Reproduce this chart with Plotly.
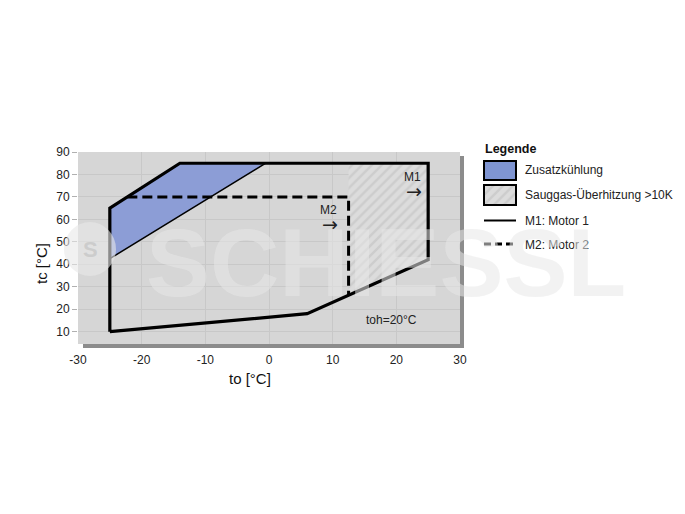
import plotly.graph_objects as go

# ---- data ----
env_to = [-25, -25, -14, 25, 25, 6, -25]          # M1 envelope, evaporating temp
env_tc = [10, 65, 85, 85, 42, 18, 10]              # M1 envelope, condensing temp
zus_to = [-25, -14, -0.5, -25]                     # Zusatzkühlung region
zus_tc = [65, 85, 85, 42.5]
sg_to = [12.5, 25, 25, 12.5]                       # Sauggas-Überhitzung region
sg_tc = [85, 85, 42, 26.2]
m2_to = [-22.25, 12.5, 12.5]                       # M2 limit (dashed)
m2_tc = [70, 70, 26.2]
x_ticks = [-30, -20, -10, 0, 10, 20, 30]
x_tick_labels = ["-30", "-20", "-10", "0", "10", "20", "30"]
y_ticks = [10, 20, 30, 40, 50, 60, 70, 80, 90]
legend_title = "Legende"
legend_labels = ["Zusatzkühlung", "Sauggas-Überhitzung >10K", "M1: Motor 1", "M2: Motor 2"]

W, H = 685, 514
DX, DY = 6, 8            # compensation for page offset
ML, MR, MT, MB = 76 - DX, 10 + DX, 152 - DY, 170 + DY
PW = W - ML - MR
PH = H - MT - MB
BOTTOM = 344 - DY        # page pixel of plot bottom

def px(x):
    return ((x - DX) - ML) / PW

def py(y):
    return (BOTTOM - (y - DY)) / PH

FONT = "Liberation Sans, Arial, sans-serif"
BLUE = "#8c9dd6"
HATCH = dict(shape="/", fgcolor="#bdbdbd", bgcolor="#dcdcdc", size=7, solidity=0.35)

fig = go.Figure()

fig.add_trace(go.Scatter(x=zus_to, y=zus_tc, fill="toself", fillcolor=BLUE,
                         mode="lines", line=dict(color="black", width=1.5),
                         hoverinfo="skip", showlegend=False))
fig.add_trace(go.Scatter(x=sg_to, y=sg_tc, fill="toself", fillcolor="#d8d8d8",
                         fillpattern=HATCH,
                         mode="lines", line=dict(color="black", width=1.5),
                         hoverinfo="skip", showlegend=False))
fig.add_trace(go.Scatter(x=m2_to, y=m2_tc, mode="lines",
                         line=dict(color="black", width=3, dash="10px,5px"),
                         hoverinfo="skip", showlegend=False))
fig.add_trace(go.Scatter(x=env_to, y=env_tc, mode="lines",
                         line=dict(color="black", width=3.2),
                         hoverinfo="skip", showlegend=False))

lx0, lx1 = px(482), px(514)
fig.add_trace(go.Scatter(x=[0, 1, 1, 0, 0], y=[0, 0, 1, 1, 0], fill="toself",
                         fillcolor="#d8d8d8", fillpattern=HATCH,
                         mode="lines", line=dict(width=0), xaxis="x2", yaxis="y2",
                         hoverinfo="skip", showlegend=False))

fig.update_layout(
    width=W, height=H,
    margin=dict(l=ML, r=MR, t=MT, b=MB, autoexpand=False),
    paper_bgcolor="white",
    plot_bgcolor="#d6d6d6",
    font=dict(family=FONT, size=12, color="#222222"),
    xaxis=dict(domain=[0, px(458)], range=[-30, 30], tickvals=x_ticks,
               ticktext=x_tick_labels,
               showgrid=True, gridcolor="#c8c8c8", gridwidth=1, zeroline=False,
               showline=False, ticks="outside", ticklen=5, tickcolor="rgba(0,0,0,0)",
               tickfont=dict(size=12, color="#222"),
               fixedrange=True, automargin=False),
    yaxis=dict(domain=[0, 1], range=[4.5, 90], tickvals=y_ticks,
               showgrid=True, gridcolor="#c8c8c8", gridwidth=1, zeroline=False,
               showline=False, ticks="outside", ticklen=5, tickcolor="#b0b0b0",
               tickfont=dict(size=12, color="#222"), fixedrange=True, automargin=False),
    xaxis2=dict(domain=[lx0, lx1], range=[0, 1], visible=False, anchor="y2"),
    yaxis2=dict(domain=[py(205), py(185)], range=[0, 1], visible=False, anchor="x2"),
    showlegend=False,
)

shapes = []
# drop shadow of plot area (bottom and right strips)
shapes.append(dict(type="rect", xref="paper", yref="paper", layer="below",
                   x0=px(81), x1=px(462), y0=py(348), y1=py(344),
                   fillcolor="#8c8c8c", line=dict(width=0)))
shapes.append(dict(type="rect", xref="paper", yref="paper", layer="below",
                   x0=px(458), x1=px(462), y0=py(348), y1=py(156),
                   fillcolor="#8c8c8c", line=dict(width=0)))
# legend blue box
shapes.append(dict(type="rect", xref="paper", yref="paper",
                   x0=lx0, x1=lx1, y0=py(180), y1=py(161),
                   fillcolor="#7f95d2", line=dict(color="black", width=2)))
# legend hatched border
shapes.append(dict(type="rect", xref="paper", yref="paper",
                   x0=lx0, x1=lx1, y0=py(205), y1=py(185),
                   fillcolor="rgba(0,0,0,0)", line=dict(color="black", width=2)))
# legend M1 line
shapes.append(dict(type="line", xref="paper", yref="paper",
                   x0=lx0, x1=lx1, y0=py(220.5), y1=py(220.5),
                   line=dict(color="black", width=2)))
# legend M2 dashed
shapes.append(dict(type="line", xref="paper", yref="paper",
                   x0=lx0, x1=lx1, y0=py(244), y1=py(244),
                   line=dict(color="black", width=3, dash="7px,4px")))
# watermark logo circle
shapes.append(dict(type="circle", xref="paper", yref="paper",
                   x0=px(62), x1=px(114), y0=py(276), y1=py(222),
                   fillcolor="rgba(232,232,232,0.6)", line=dict(width=0)))
fig.update_layout(shapes=shapes)

ann = []
ann.append(dict(text="to [°C]", xref="paper", yref="paper", x=px(247.5), y=py(378),
                showarrow=False, font=dict(size=15, color="#111"),
                xanchor="center", yanchor="middle"))
ann.append(dict(text="tc [°C]", xref="paper", yref="paper", x=px(39), y=py(264),
                showarrow=False, textangle=-90, font=dict(size=15, color="#111"),
                xanchor="center", yanchor="middle"))
ann.append(dict(text="M1", x=22.5, y=78.9, xref="x", yref="y", showarrow=False,
                font=dict(size=12, color="#222")))
ann.append(dict(text="→", x=22.7, y=72.5, xref="x", yref="y", showarrow=False,
                font=dict(size=19, color="#222", family="DejaVu Sans")))
ann.append(dict(text="M2", x=9.4, y=64, xref="x", yref="y", showarrow=False,
                font=dict(size=12, color="#222")))
ann.append(dict(text="→", x=9.6, y=57.9, xref="x", yref="y", showarrow=False,
                font=dict(size=19, color="#222", family="DejaVu Sans")))
ann.append(dict(text="toh=20°C", x=19.3, y=15.2, xref="x", yref="y", showarrow=False,
                font=dict(size=12, color="#222")))
ann.append(dict(text="<b>" + legend_title + "</b>", xref="paper", yref="paper",
                x=px(481), y=py(149), xanchor="left", yanchor="middle", showarrow=False,
                font=dict(size=12.5, color="#111")))
for lbl, yy in zip(legend_labels, [169.5, 195, 220.5, 245]):
    ann.append(dict(text=lbl, xref="paper", yref="paper", x=px(521), y=py(yy),
                    xanchor="left", yanchor="middle", showarrow=False,
                    font=dict(size=12, color="#222")))
ann.append(dict(text="<b>SCHIESSL</b>", xref="paper", yref="paper", x=px(384), y=py(262),
                xanchor="center", yanchor="middle", showarrow=False,
                font=dict(size=96, color="rgba(232,232,232,0.55)", family=FONT)))
ann.append(dict(text="<b>S</b>", xref="paper", yref="paper", x=px(88), y=py(249),
                xanchor="center", yanchor="middle", showarrow=False,
                font=dict(size=22, color="rgba(195,195,195,0.7)", family=FONT)))
fig.update_layout(annotations=ann)

fig.write_html("out.html")
